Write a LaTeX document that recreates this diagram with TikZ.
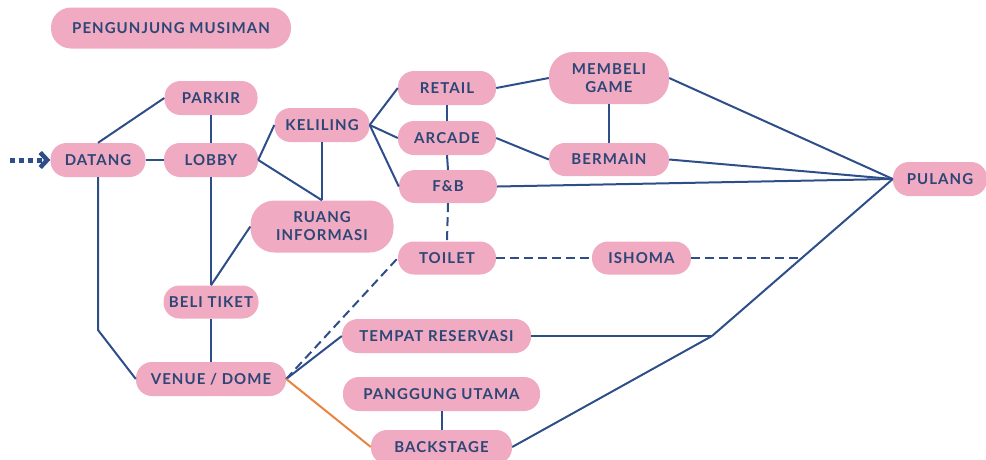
\documentclass[tikz,border=0pt]{standalone}
\usepackage{fontspec}
\setmainfont{Lato}[LetterSpace=7]
\usetikzlibrary{arrows.meta}
\definecolor{pk}{RGB}{240,170,193}
\definecolor{tc}{RGB}{44,70,118}
\definecolor{ln}{RGB}{46,78,138}
\definecolor{orng}{RGB}{232,132,64}
\tikzset{
  box/.style={fill=pk, rounded corners=16pt, minimum height=34pt, inner sep=0pt,
    text=tc, font=\fontsize{15}{18}\selectfont\bfseries, align=center},
  tallbox/.style={box, rounded corners=24pt, minimum height=52pt},
  conn/.style={draw=ln, line width=2pt},
  dconn/.style={conn, dash pattern=on 9pt off 5pt},
  oconn/.style={draw=orng, line width=2pt},
  entry/.style={draw=ln, line width=5pt, dash pattern=on 5pt off 4pt,
    -{Straight Barb[length=7pt,width=15pt,line width=4.5pt]}}
}
\begin{document}
\begin{tikzpicture}[x=1pt,y=-1pt]
\useasboundingbox (0,0) rectangle (986,459);
\node[box, minimum width=240pt, minimum height=41pt, rounded corners=20pt] (title) at (171,28) {PENGUNJUNG MUSIMAN};
\node[box, minimum width=93pt] (parkir) at (211,98) {PARKIR};
\node[box, minimum width=95pt] (datang) at (98,160) {DATANG};
\node[box, minimum width=94pt] (lobby) at (211,160) {LOBBY};
\node[box, minimum width=95pt] (keliling) at (322,125) {KELILING};
\node[tallbox, minimum width=143pt] (ruang) at (322,226.5) {RUANG\\INFORMASI};
\node[box, minimum width=95pt, minimum height=33pt] (beli) at (211,302) {BELI TIKET};
\node[box, minimum width=150pt] (venue) at (211,379) {VENUE / DOME};
\node[box, minimum width=98pt] (retail) at (447,88) {RETAIL};
\node[box, minimum width=98pt] (arcade) at (447,138) {ARCADE};
\node[box, minimum width=98pt, minimum height=33pt] (fnb) at (448,186.5) {F\&B};
\node[box, minimum width=98pt, minimum height=33pt] (toilet) at (447,258) {TOILET};
\node[tallbox, minimum width=120pt] (membeli) at (609,78) {MEMBELI\\GAME};
\node[box, minimum width=120pt, minimum height=33pt] (bermain) at (609,159.5) {BERMAIN};
\node[box, minimum width=99pt, minimum height=33pt] (ishoma) at (641.5,258) {ISHOMA};
\node[box, minimum width=94pt] (pulang) at (940,179) {PULANG};
\node[box, minimum width=189pt] (tempat) at (436.5,336) {TEMPAT RESERVASI};
\node[box, minimum width=197pt] (panggung) at (441.5,394) {PANGGUNG UTAMA};
\node[box, minimum width=141pt] (backstage) at (441.5,447) {BACKSTAGE};
\coordinate (start) at (10,160);
\coordinate (bend) at (98,330);
\coordinate (junc) at (712,336);
\coordinate (ishend) at (802,258);
% connectors
\draw[entry] (start) -- (datang.west);
\draw[conn] (datang.north) -- (parkir.west);
\draw[conn] (datang.east) -- (lobby.west);
\draw[conn] (parkir.south) -- (lobby.north);
\draw[conn] (lobby.east) -- (keliling.west);
\draw[conn] (lobby.east) -- (ruang.north);
\draw[conn] (keliling.south) -- (ruang.north);
\draw[conn] (lobby.south) -- (beli.north);
\draw[conn] (ruang.west) -- (beli.north);
\draw[conn] (beli.south) -- (venue.north);
\draw[conn] (datang.south) -- (bend) -- (venue.west);
\draw[conn] (keliling.east) -- (retail.west);
\draw[conn] (keliling.east) -- (arcade.west);
\draw[conn] (keliling.east) -- (fnb.west);
\draw[conn] (retail.south) -- (arcade.north);
\draw[conn] (arcade.south) -- (fnb.north);
\draw[dconn] (fnb.south) -- (toilet.north);
\draw[conn] (retail.east) -- (membeli.west);
\draw[conn] (arcade.east) -- (bermain.west);
\draw[conn] (membeli.south) -- (bermain.north);
\draw[conn] (membeli.east) -- (pulang.west);
\draw[conn] (bermain.east) -- (pulang.west);
\draw[conn] (fnb.east) -- (pulang.west);
\draw[dconn] (toilet.east) -- (ishoma.west);
\draw[dconn] (ishoma.east) -- (ishend);
\draw[dconn] (venue.east) -- (toilet.west);
\draw[conn] (venue.east) -- (tempat.west);
\draw[oconn] (venue.east) -- (backstage.west);
\draw[conn] (panggung.south) -- (backstage.north);
\draw[conn] (tempat.east) -- (junc);
\draw[conn] (backstage.east) -- (junc);
\draw[conn] (junc) -- (pulang.west);
\end{tikzpicture}
\end{document}
